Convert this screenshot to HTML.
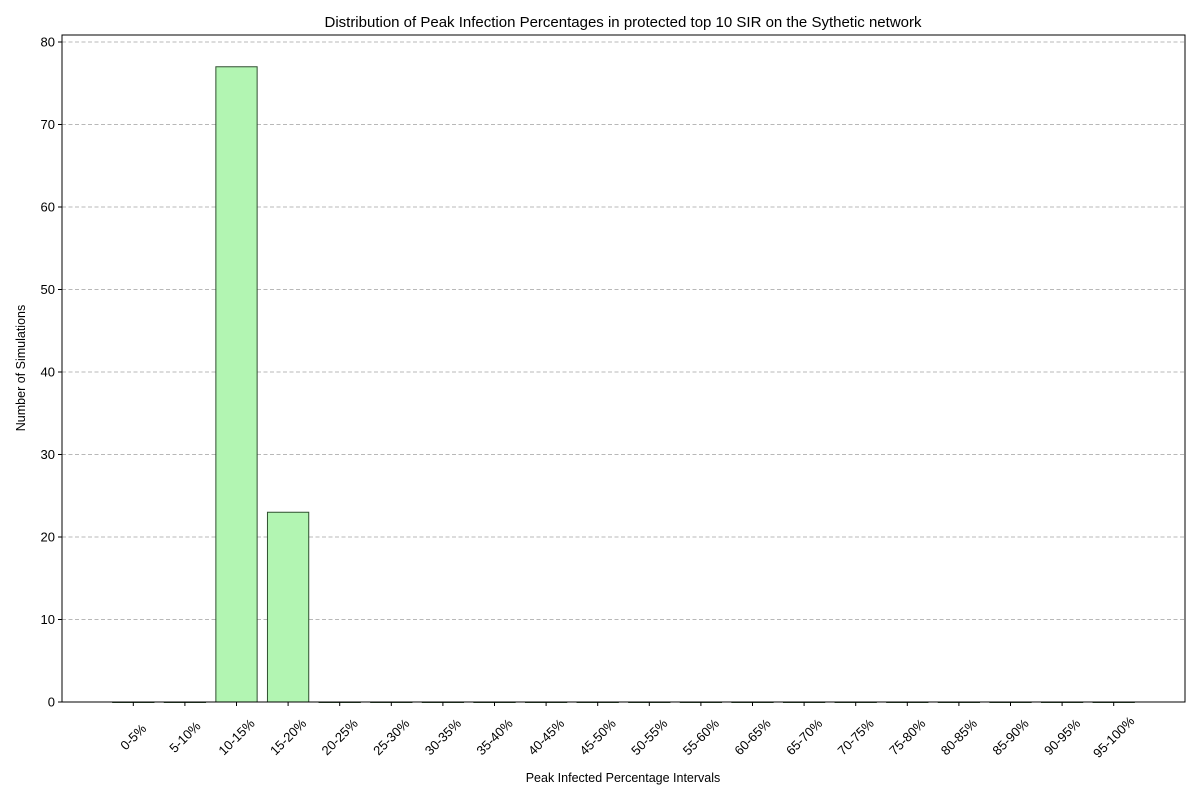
<!DOCTYPE html>
<html><head><meta charset="utf-8"><style>body{margin:0;background:#fff}svg{display:block;font-family:"Liberation Sans","DejaVu Sans",sans-serif}</style></head>
<body>
<svg id="c" width="1200" height="800" xmlns="http://www.w3.org/2000/svg">
<rect width="1200" height="800" fill="#fff"/>
<text x="623" y="27" text-anchor="middle" font-size="15">Distribution of Peak Infection Percentages in protected top 10 SIR on the Sythetic network</text>
<g id="grid"></g><g id="bars"></g><g id="axes"></g>
<text x="623" y="782" text-anchor="middle" font-size="12.5">Peak Infected Percentage Intervals</text>
<text transform="translate(25,368) rotate(-90)" text-anchor="middle" font-size="12.5">Number of Simulations</text>
</svg>
<script>
const categories=["0-5%","5-10%","10-15%","15-20%","20-25%","25-30%","30-35%","35-40%","40-45%","45-50%","50-55%","55-60%","60-65%","65-70%","70-75%","75-80%","80-85%","85-90%","90-95%","95-100%"];
const values=[0,0,77,23,0,0,0,0,0,0,0,0,0,0,0,0,0,0,0,0];
const yTicks=[0,10,20,30,40,50,60,70,80];
const L=62,R=1185,T=35,B=702;
const yMax=80.85;
const y=v=>B-(v/yMax)*(B-T);
const step=51.6;
const x=i=>133.3+i*step;
const bw=step*0.8;
const NS="http://www.w3.org/2000/svg";
function mk(t,a,p){const e=document.createElementNS(NS,t);for(const k in a)e.setAttribute(k,a[k]);p.appendChild(e);return e;}
const grid=document.getElementById('grid'),bars=document.getElementById('bars'),axes=document.getElementById('axes');
yTicks.forEach(v=>{
 const g=mk('line',{x1:L,x2:R,y1:y(v),y2:y(v),stroke:'#b8b8b8','stroke-dasharray':'4,2.5','stroke-width':0.9},grid);
 
 
 const t=mk('line',{x1:L-4,x2:L,y1:y(v),y2:y(v),stroke:'#000'},axes);
 
 
 const l=mk('text',{x:L-7,y:y(v)+4.5,'text-anchor':'end','font-size':13},axes);
 l.textContent=v;
 
 
});
categories.forEach((c,i)=>{
 const h=B-y(values[i]);
 const b=mk('rect',{x:x(i)-bw/2,y:y(values[i]),width:bw,height:Math.max(h,0.5),fill:'#b2f5b2',stroke:'#2f4f2f','stroke-width':1},bars);
 
 
 const t=mk('line',{x1:x(i),x2:x(i),y1:B,y2:B+4,stroke:'#000'},axes);
 
 
 const l=mk('text',{x:0,y:0,'text-anchor':'middle','dominant-baseline':'central','font-size':13,transform:`translate(${x(i)},737) rotate(-45)`},axes);
 l.textContent=c;
 
 
});
const f=mk('rect',{x:L,y:T,width:R-L,height:B-T,fill:'none',stroke:'#000','stroke-width':1},axes);


</script>
</body></html>
